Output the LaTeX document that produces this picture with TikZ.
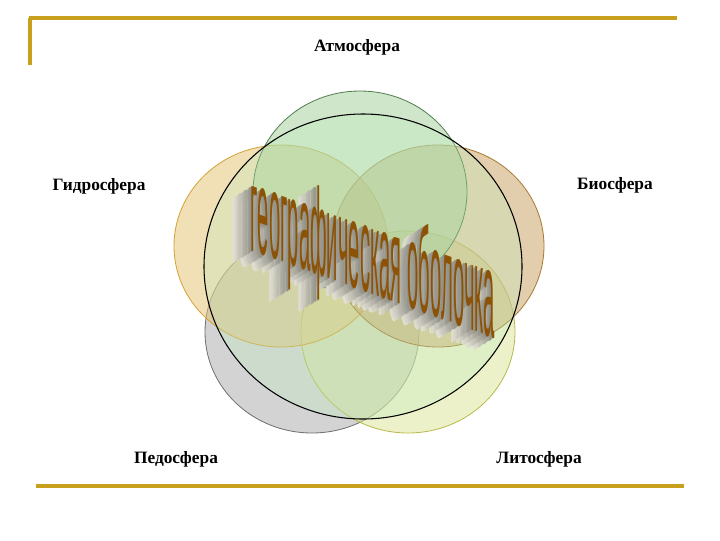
\documentclass[tikz,border=0pt]{standalone}
\usepackage{fontspec}
\setmainfont{Liberation Serif}
\newfontfamily\wafont{Liberation Sans}
\usetikzlibrary{calc}
\definecolor{gold}{RGB}{200,160,30}
\definecolor{atmfill}{RGB}{160,205,150}
\definecolor{atmline}{RGB}{80,125,80}
\definecolor{hydfill}{RGB}{228,192,110}
\definecolor{hydline}{RGB}{212,160,50}
\definecolor{biofill}{RGB}{198,158,90}
\definecolor{bioline}{RGB}{168,120,48}
\definecolor{pedfill}{RGB}{168,168,168}
\definecolor{pedline}{RGB}{110,110,110}
\definecolor{litfill}{RGB}{218,228,150}
\definecolor{litline}{RGB}{185,185,75}
\definecolor{bigfill}{RGB}{190,235,190}
\definecolor{wabrown}{RGB}{140,82,5}
\definecolor{walight}{RGB}{226,224,212}
\definecolor{wadark}{RGB}{50,50,45}
\begin{document}
\begin{tikzpicture}[x=0.75pt,y=-0.75pt,
  sphere/.style={line width=0.6pt, fill opacity=0.5},
  lbl/.style={font=\bfseries\fontsize{13}{15}\selectfont, inner sep=0},
  rulestyle/.style={draw=gold, line width=2.4pt},
  wa/.style={font=\wafont\fontsize{20}{20}\selectfont, inner sep=0, transform shape, yslant=-0.36, xscale=0.76, yscale=4.6}]
\useasboundingbox (0,0) rectangle (720,540);
% rules
\coordinate (tl) at (29,18);
\coordinate (tr) at (677,18);
\coordinate (vl) at (30,18);
\coordinate (vb) at (30,65);
\coordinate (bl) at (36,486);
\coordinate (br) at (684,486);
\draw[rulestyle] (tl) -- (tr);
\draw[rulestyle] (vl) -- (vb);
\draw[rulestyle] (bl) -- (br);
% spheres
\draw[sphere, draw=pedline, fill=pedfill] (312,332) ellipse [x radius=107, y radius=101];
\draw[sphere, draw=litline, fill=litfill] (408,332) ellipse [x radius=107, y radius=101];
\draw[sphere, draw=hydline, fill=hydfill] (281,246) ellipse [x radius=107, y radius=101];
\draw[sphere, draw=bioline, fill=biofill] (438,246) ellipse [x radius=106, y radius=101];
\draw[sphere, draw=atmline, fill=atmfill] (360,192) ellipse [x radius=107, y radius=101];
\draw[black, line width=0.8pt, fill=bigfill, fill opacity=0.3] (363,266.5) ellipse [x radius=159, y radius=152.5];
% labels
\node[lbl] (atm) at (357,47) {Атмосфера};
\node[lbl] (hyd) at (99,186) {Гидросфера};
\node[lbl] (bio) at (615,185) {Биосфера};
\node[lbl] (ped) at (176,459) {Педосфера};
\node[lbl] (lit) at (539,459) {Литосфера};
% word art: extruded copies, back to front, then the brown face
\coordinate (wc) at (373,262);
\foreach \k in {16,15,...,1} {
  \pgfmathtruncatemacro\sh{(16-\k)*45/15}
  \node[wa, text=wadark!\sh!walight] at ($(wc)+(-1.2*\k,0.75*\k)$) {географическая оболочка};
}
\node[wa, text=wabrown] (geo) at (wc) {географическая оболочка};
\end{tikzpicture}
\end{document}
